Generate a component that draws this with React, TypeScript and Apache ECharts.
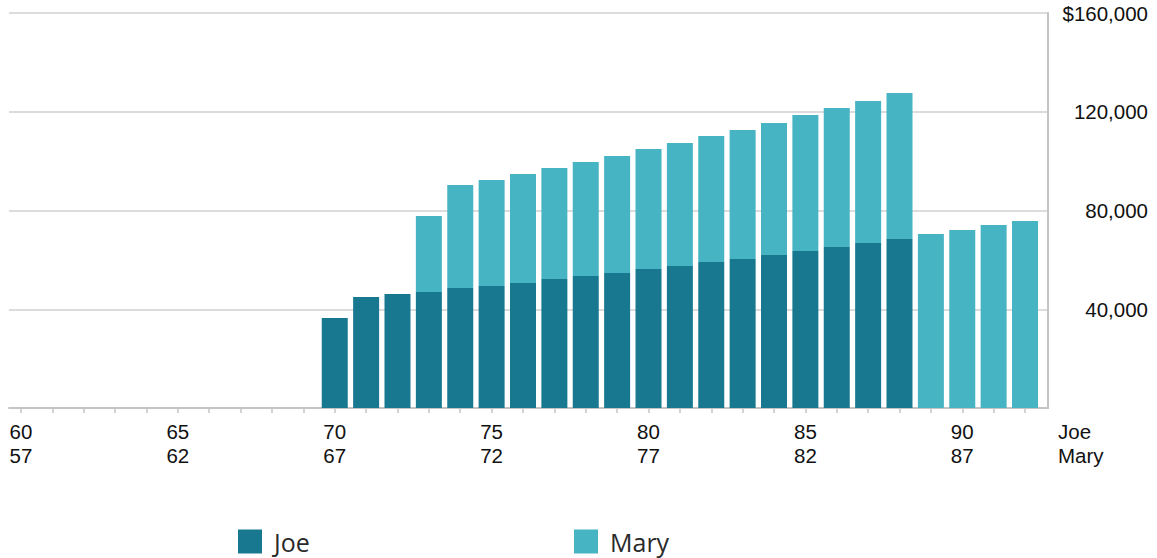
import React, { useEffect, useRef } from "react";
import * as echarts from "echarts";

const joeAges = [60, 61, 62, 63, 64, 65, 66, 67, 68, 69, 70, 71, 72, 73, 74, 75, 76, 77, 78, 79, 80, 81, 82, 83, 84, 85, 86, 87, 88, 89, 90, 91, 92];
const maryAges = [57, 58, 59, 60, 61, 62, 63, 64, 65, 66, 67, 68, 69, 70, 71, 72, 73, 74, 75, 76, 77, 78, 79, 80, 81, 82, 83, 84, 85, 86, 87, 88, 89];

const joeIncome = [
  null, null, null, null, null, null, null, null, null, null,
  36500, 45000, 46200, 47000, 48600, 49400, 50650, 52250, 53450, 54700,
  56300, 57500, 59150, 60350, 61950, 63600, 65200, 66850, 68450,
  null, null, null, null,
];
const maryIncome = [
  null, null, null, null, null, null, null, null, null, null, null, null, null,
  30800, 41700, 42950, 44150, 44950, 46200, 47350, 48600, 49850, 51000,
  52250, 53500, 55100, 56300, 57500, 59150, 70500, 72100, 74100, 75750,
];

const yTicks = [0, 40000, 80000, 120000, 160000];

const JOE_COLOR = "#18788f";
const MARY_COLOR = "#47b4c4";
const FONT = "'Liberation Sans', Arial, sans-serif";
const LEGEND_FONT = "'Open Sans', sans-serif";

export default function App() {
  const ref = useRef<HTMLDivElement>(null);
  useEffect(() => {
    if (!ref.current) return;
    const chart = echarts.init(ref.current, null, { renderer: "svg" });
    const yMax = yTicks[yTicks.length - 1];
    const legendText = {
      fontFamily: LEGEND_FONT,
      fontSize: 25,
      lineHeight: 24,
      color: "#2a2a2a",
      padding: [0, 0, 0, 7],
    };
    chart.setOption({
      animation: false,
      grid: [
        { left: 5.3, top: 13, width: 1035.4, height: 395 },
        { left: 9, top: 13, width: 1039, height: 395 },
      ],
      legend: [
        {
          data: ["Joe"],
          left: 238,
          top: 529,
          padding: 0,
          itemWidth: 24,
          itemHeight: 24,
          icon: "rect",
          textStyle: legendText,
        },
        {
          data: ["Mary"],
          left: 574,
          top: 529,
          padding: 0,
          itemWidth: 24,
          itemHeight: 24,
          icon: "rect",
          textStyle: legendText,
        },
      ],
      xAxis: [
        {
          type: "category",
          gridIndex: 0,
          data: joeAges.map(String),
          axisLine: { show: false },
          axisTick: {
            show: true,
            interval: 0,
            alignWithLabel: true,
            length: 5,
            lineStyle: { color: "#c4c4c4", width: 1.5 },
          },
          axisLabel: {
            interval: (i: number) => i % 5 === 0,
            formatter: (_v: string, i: number) => `${joeAges[i]}\n${maryAges[i]}`,
            fontFamily: FONT,
            fontSize: 20.5,
            lineHeight: 24,
            color: "#111",
            margin: 11,
          },
          splitLine: { show: false },
        },
        {
          type: "value",
          gridIndex: 1,
          min: 0,
          max: 1,
          axisLine: { show: true, onZero: false, lineStyle: { color: "#c4c4c4", width: 2 } },
          axisTick: { show: false },
          axisLabel: { show: false },
          splitLine: { show: false },
          name: "Joe\nMary",
          nameLocation: "end",
          nameGap: 10,
          nameTextStyle: {
            fontFamily: FONT,
            fontSize: 20.5,
            lineHeight: 24,
            color: "#111",
            align: "left",
            verticalAlign: "top",
            padding: [11, 0, 0, 0],
          },
        },
      ],
      yAxis: [
        { type: "value", gridIndex: 0, min: 0, max: yMax, show: false },
        {
          type: "value",
          gridIndex: 1,
          position: "right",
          min: 0,
          max: yMax,
          interval: 40000,
          axisLine: { show: true, onZero: false, lineStyle: { color: "#c4c4c4", width: 2 } },
          axisTick: { show: false },
          splitLine: { show: true, lineStyle: { color: "#dcdcdc", width: 2 } },
          axisLabel: {
            margin: 100,
            align: "right",
            verticalAlign: "middle",
            padding: [6, 0, 0, 0],
            fontFamily: FONT,
            fontSize: 20.5,
            color: "#111",
            formatter: (v: number) => {
              if (v === 0) return "";
              const s = v.toLocaleString("en-US");
              return v === yMax ? "$" + s : s;
            },
          },
        },
      ],
      series: [
        {
          name: "Joe",
          type: "bar",
          stack: "total",
          xAxisIndex: 0,
          yAxisIndex: 0,
          barWidth: 26,
          itemStyle: { color: JOE_COLOR },
          data: joeIncome,
        },
        {
          name: "Mary",
          type: "bar",
          stack: "total",
          xAxisIndex: 0,
          yAxisIndex: 0,
          barWidth: 26,
          itemStyle: { color: MARY_COLOR },
          data: maryIncome,
        },
      ],
    });
    return () => chart.dispose();
  }, []);
  return (
    <div
      ref={ref}
      style={{ position: "fixed", left: 0, top: 0, width: 1157, height: 558, background: "#fff" }}
    />
  );
}
